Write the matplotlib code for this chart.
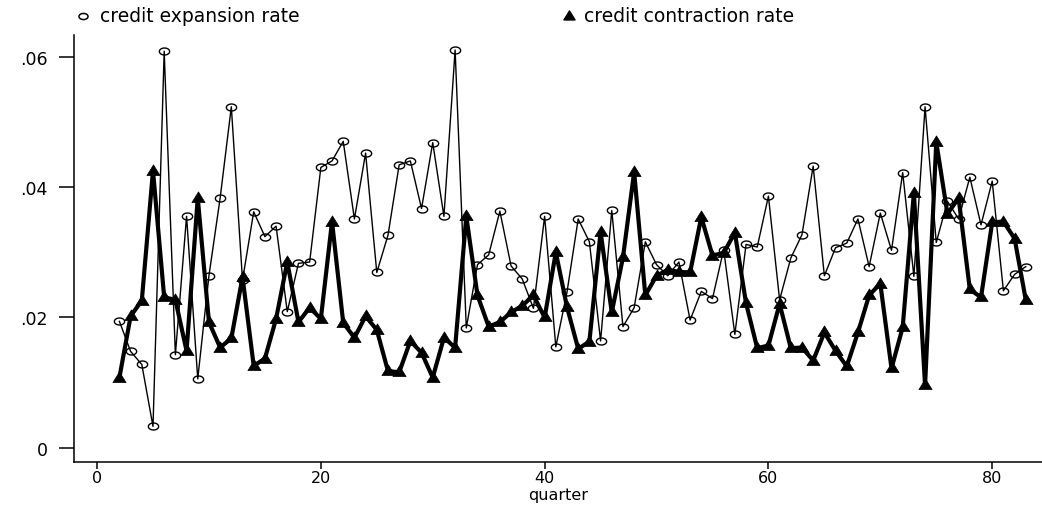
import numpy as np
import matplotlib
matplotlib.use("Agg")
import matplotlib.pyplot as plt
from matplotlib.path import Path
from matplotlib.lines import Line2D

quarters = [2, 3, 4, 5, 6, 7, 8, 9, 10, 11, 12, 13, 14, 15, 16, 17, 18, 19, 20, 21,
            22, 23, 24, 25, 26, 27, 28, 29, 30, 31, 32, 33, 34, 35, 36, 37, 38, 39, 40, 41,
            42, 43, 44, 45, 46, 47, 48, 49, 50, 51, 52, 53, 54, 55, 56, 57, 58, 59, 60, 61,
            62, 63, 64, 65, 66, 67, 68, 69, 70, 71, 72, 73, 74, 75, 76, 77, 78, 79, 80, 81,
            82, 83]

expansion = [0.0194, 0.0148, 0.0128, 0.0033, 0.0608, 0.0143, 0.0355, 0.0106, 0.0264, 0.0383,
             0.0523, 0.0257, 0.0362, 0.0324, 0.0340, 0.0209, 0.0283, 0.0285, 0.0430, 0.0440,
             0.0470, 0.0351, 0.0452, 0.0269, 0.0326, 0.0434, 0.0440, 0.0367, 0.0468, 0.0355,
             0.0610, 0.0184, 0.0281, 0.0296, 0.0363, 0.0279, 0.0259, 0.0214, 0.0355, 0.0155,
             0.0239, 0.0351, 0.0316, 0.0164, 0.0364, 0.0186, 0.0215, 0.0316, 0.0281, 0.0264,
             0.0285, 0.0196, 0.0240, 0.0229, 0.0304, 0.0174, 0.0312, 0.0308, 0.0386, 0.0227,
             0.0291, 0.0327, 0.0432, 0.0264, 0.0307, 0.0314, 0.0351, 0.0278, 0.0360, 0.0303,
             0.0422, 0.0263, 0.0523, 0.0315, 0.0378, 0.0351, 0.0415, 0.0342, 0.0409, 0.0241,
             0.0266, 0.0278]

contraction = [0.0108, 0.0202, 0.0226, 0.0425, 0.0231, 0.0227, 0.0149, 0.0383, 0.0193, 0.0154,
               0.0168, 0.0262, 0.0126, 0.0137, 0.0198, 0.0285, 0.0193, 0.0215, 0.0198, 0.0347,
               0.0192, 0.0169, 0.0202, 0.0181, 0.0118, 0.0116, 0.0164, 0.0146, 0.0108, 0.0169,
               0.0154, 0.0355, 0.0234, 0.0186, 0.0193, 0.0208, 0.0218, 0.0234, 0.0200, 0.0300,
               0.0216, 0.0152, 0.0163, 0.0331, 0.0208, 0.0292, 0.0423, 0.0234, 0.0264, 0.0273,
               0.0270, 0.0269, 0.0354, 0.0295, 0.0299, 0.0330, 0.0222, 0.0153, 0.0157, 0.0221,
               0.0153, 0.0154, 0.0134, 0.0177, 0.0149, 0.0125, 0.0177, 0.0234, 0.0252, 0.0122,
               0.0185, 0.0391, 0.0096, 0.0469, 0.0359, 0.0383, 0.0243, 0.0231, 0.0346, 0.0347,
               0.0321, 0.0227]

xticks = [0, 20, 40, 60, 80]
yticks = [0, 0.02, 0.04, 0.06]
ytick_labels = ["0", ".02", ".04", ".06"]
legend_labels = ["credit expansion rate", "credit contraction rate"]
xlabel = "quarter"

plt.rcParams['font.family'] = ['DejaVu Sans']

# wide ellipse marker (reference is horizontally stretched)
t = np.linspace(0, 2 * np.pi, 60)
ellipse = Path(np.column_stack([np.cos(t), 0.68 * np.sin(t)]), closed=True)
tri = Path([(0, 1.0), (-1, -0.62), (1, -0.62), (0, 1.0)], closed=True)

fig = plt.figure(figsize=(10.42, 5.06), dpi=100)
ax = fig.add_axes([74 / 1042, 43 / 506, 1 - 74 / 1042, (463 - 36) / 506])

ax.plot(quarters, expansion, color='black', lw=1.0, marker=ellipse, ms=7.4,
        mfc='none', mec='black', mew=1.0, zorder=2)
ax.plot(quarters, contraction, color='black', lw=3.0, marker=tri, ms=9.5,
        mfc='black', mec='black', mew=0.5, zorder=3)

ax.set_xlim(-2.06, 84.45)
ax.set_ylim(-0.00215, 0.0633)
ax.set_xticks(xticks)
ax.set_xticklabels([str(v) for v in xticks])
ax.set_yticks(yticks)
ax.set_yticklabels(ytick_labels)
for s in ['top', 'right']:
    ax.spines[s].set_visible(False)
for s in ['left', 'bottom']:
    ax.spines[s].set_linewidth(1.1)
ax.tick_params(axis='y', length=10.5, width=1.1, pad=8.5, labelsize=12.5, direction='out')
ax.tick_params(axis='x', length=5, width=1.1, pad=0.5, labelsize=11.5, direction='out')
ax.set_xlabel(xlabel, fontsize=11.5, va='top')
ax.xaxis.set_label_coords(0.5, -(488 - 463) / 427)

# legend at the top
ly = 1 - 17 / 506
fig.add_artist(Line2D([83 / 1042], [ly], marker=ellipse, ms=6.5, mfc='none',
                      mec='black', mew=1.1, ls='none', transform=fig.transFigure))
fig.text(100 / 1042, ly, legend_labels[0], fontsize=13.5, va='center', ha='left')
fig.add_artist(Line2D([569 / 1042], [ly], marker=tri, ms=8, mfc='black',
                      mec='black', ls='none', transform=fig.transFigure))
fig.text(584 / 1042, ly, legend_labels[1], fontsize=13.5, va='center', ha='left')

fig.savefig("out.png", dpi=100)
